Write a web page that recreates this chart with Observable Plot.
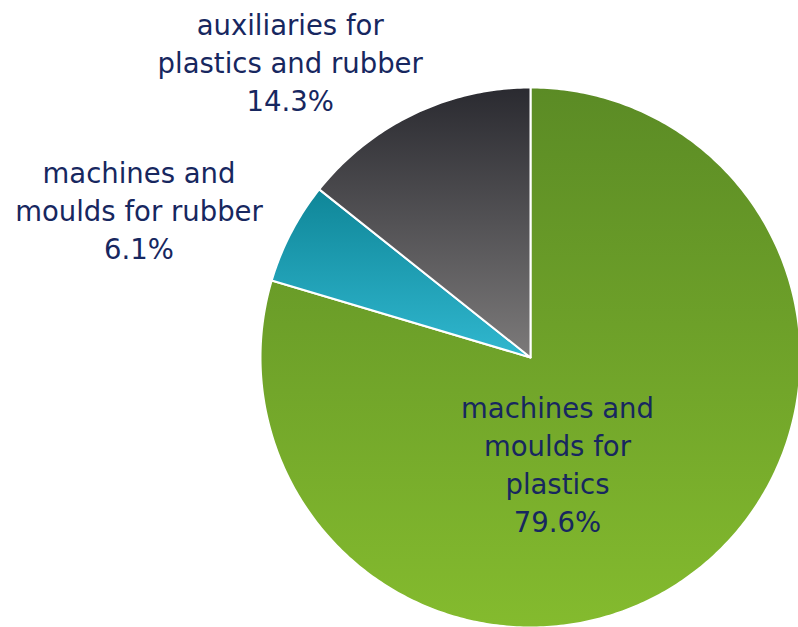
<!DOCTYPE html>
<html><head><meta charset="utf-8">
<script src="https://cdn.jsdelivr.net/npm/d3@7"></script>
<script src="https://cdn.jsdelivr.net/npm/@observablehq/plot@0.6"></script>
<style>body{margin:0;background:#fff}</style>
</head><body><div id="chart"></div>
<script>
// data
const categories = ["machines and moulds for plastics", "machines and moulds for rubber", "auxiliaries for plastics and rubber"];
const shares = [79.6, 6.1, 14.3];
const labelLines = [["machines and", "moulds for", "plastics"], ["machines and", "moulds for rubber"], ["auxiliaries for", "plastics and rubber"]];

// styles / layout
const gradTop = ["#5b8b25", "#0f8698", "#2a2a30"];
const gradBottom = ["#84bb2e", "#30b7cf", "#7c7a7a"];
const labelAt = [[0.1, 0.39], [-1.45, -0.55], [-0.89, -1.1]];
const W = 798, H = 627, R = 270, CX = 530, CY = 357;

const pie = d3.pie().sort(null).value(d => d)(shares);
const poly = [];
pie.forEach((a, i) => {
  poly.push({i, x: 0, y: 0});
  const n = Math.max(4, Math.ceil((a.endAngle - a.startAngle) * 80));
  for (let k = 0; k <= n; k++) {
    const t = a.startAngle + (a.endAngle - a.startAngle) * k / n;
    poly.push({i, x: Math.sin(t), y: -Math.cos(t)});
  }
  poly.push({i, x: 0, y: 0});
});
const labels = categories.map((c, i) => ({i, x: labelAt[i][0], y: labelAt[i][1],
  text: [...labelLines[i], shares[i].toFixed(1) + "%"].join("\n")}));

const defs = () => {
  const g = d3.create("svg:defs");
  gradTop.forEach((c, i) => {
    const lg = g.append("linearGradient").attr("id", "g" + i).attr("x1", 0).attr("y1", 0).attr("x2", 0).attr("y2", 1);
    lg.append("stop").attr("offset", 0).attr("stop-color", c);
    lg.append("stop").attr("offset", 1).attr("stop-color", gradBottom[i]);
  });
  return g.node();
};

const chart = Plot.plot({
  width: W, height: H, margin: 0,
  x: {domain: [-CX / R, (W - CX) / R], range: [0, W], axis: null},
  y: {domain: [-CY / R, (H - CY) / R], range: [0, H], axis: null},
  marks: [
    defs,
    ...[0, 1, 2].map(i => Plot.line(poly.filter(d => d.i === i), {x: "x", y: "y", fill: `url(#g${i})`, stroke: "#fff", strokeWidth: 2, curve: "linear"})),
    Plot.text(labels, {x: "x", y: "y", text: "text", fontSize: 27.5, lineHeight: 1.38, fill: "#17275f", fontFamily: "DejaVu Sans", textAnchor: "middle"})
  ]
});
document.getElementById("chart").append(chart);
</script>
</body></html>
